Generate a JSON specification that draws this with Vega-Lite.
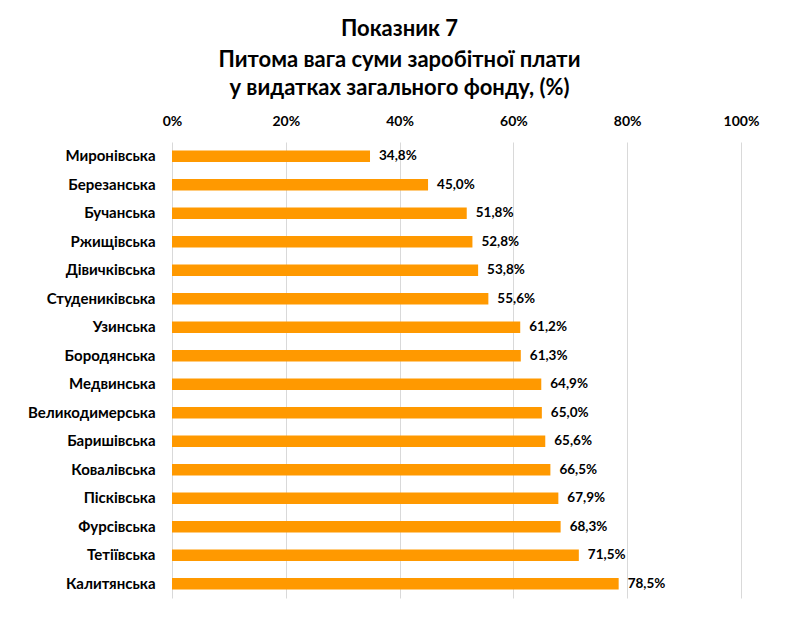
{
  "$schema": "https://vega.github.io/schema/vega-lite/v6.json",
  "width": 569,
  "height": 456,
  "autosize": {"type": "none"},
  "padding": {"left": 172, "top": 142, "right": 50, "bottom": 19},
  "background": "white",
  "config": {
    "locale": {"number": {"decimal": ",", "thousands": " ", "grouping": [3], "currency": ["", " ₴"]}},
    "view": {"stroke": null},
    "font": "Lato"
  },
  "title": {
    "text": "Показник 7",
    "subtitle": ["Питома вага суми заробітної плати", "у видатках загального фонду, (%)"],
    "anchor": "middle",
    "frame": "group",
    "dx": -57,
    "font": "Lato",
    "fontSize": 22,
    "fontWeight": "bold",
    "color": "#000000",
    "subtitleFont": "Lato",
    "subtitleFontSize": 22,
    "subtitleFontWeight": "bold",
    "subtitleColor": "#000000",
    "subtitleLineHeight": 28,
    "subtitlePadding": 9,
    "offset": 14
  },
  "data": {
    "values": [
      {"name": "Миронівська", "value": 0.348, "order": 1},
      {"name": "Березанська", "value": 0.450, "order": 2},
      {"name": "Бучанська", "value": 0.518, "order": 3},
      {"name": "Ржищівська", "value": 0.528, "order": 4},
      {"name": "Дівичківська", "value": 0.538, "order": 5},
      {"name": "Студениківська", "value": 0.556, "order": 6},
      {"name": "Узинська\u00a0", "value": 0.612, "order": 7},
      {"name": "Бородянська", "value": 0.613, "order": 8},
      {"name": "Медвинська", "value": 0.649, "order": 9},
      {"name": "Великодимерська\u00a0", "value": 0.650, "order": 10},
      {"name": "Баришівська", "value": 0.656, "order": 11},
      {"name": "Ковалівська", "value": 0.665, "order": 12},
      {"name": "Пісківська\u00a0", "value": 0.679, "order": 13},
      {"name": "Фурсівська", "value": 0.683, "order": 14},
      {"name": "Тетіївська\u00a0", "value": 0.715, "order": 15},
      {"name": "Калитянська", "value": 0.785, "order": 16}
    ]
  },
  "encoding": {
    "y": {
      "field": "name",
      "type": "nominal",
      "sort": {"field": "order", "order": "ascending"},
      "scale": {"paddingInner": 0.6, "paddingOuter": 0.3},
      "axis": {
        "title": null,
        "domain": false,
        "ticks": false,
        "labelPadding": 17,
        "labelFont": "Lato",
        "labelFontSize": 15,
        "labelFontWeight": "bold",
        "labelColor": "#000000"
      }
    },
    "x": {
      "field": "value",
      "type": "quantitative",
      "scale": {"domain": [0, 1]},
      "axis": {
        "orient": "top",
        "title": null,
        "domain": false,
        "ticks": false,
        "values": [0, 0.2, 0.4, 0.6, 0.8, 1],
        "format": ".0%",
        "labelFlush": false,
        "grid": true,
        "gridColor": "#d9d9d9",
        "gridWidth": 1,
        "labelPadding": 14,
        "labelFont": "Lato",
        "labelFontSize": 14,
        "labelFontWeight": "bold",
        "labelColor": "#000000"
      }
    }
  },
  "layer": [
    {"mark": {"type": "bar", "color": "#ff9900"}},
    {
      "mark": {"type": "text", "align": "left", "baseline": "middle", "dx": 9, "font": "Lato", "fontSize": 13.5, "fontWeight": "bold", "color": "#000000"},
      "encoding": {"text": {"field": "value", "type": "quantitative", "format": ".1%"}}
    }
  ]
}
